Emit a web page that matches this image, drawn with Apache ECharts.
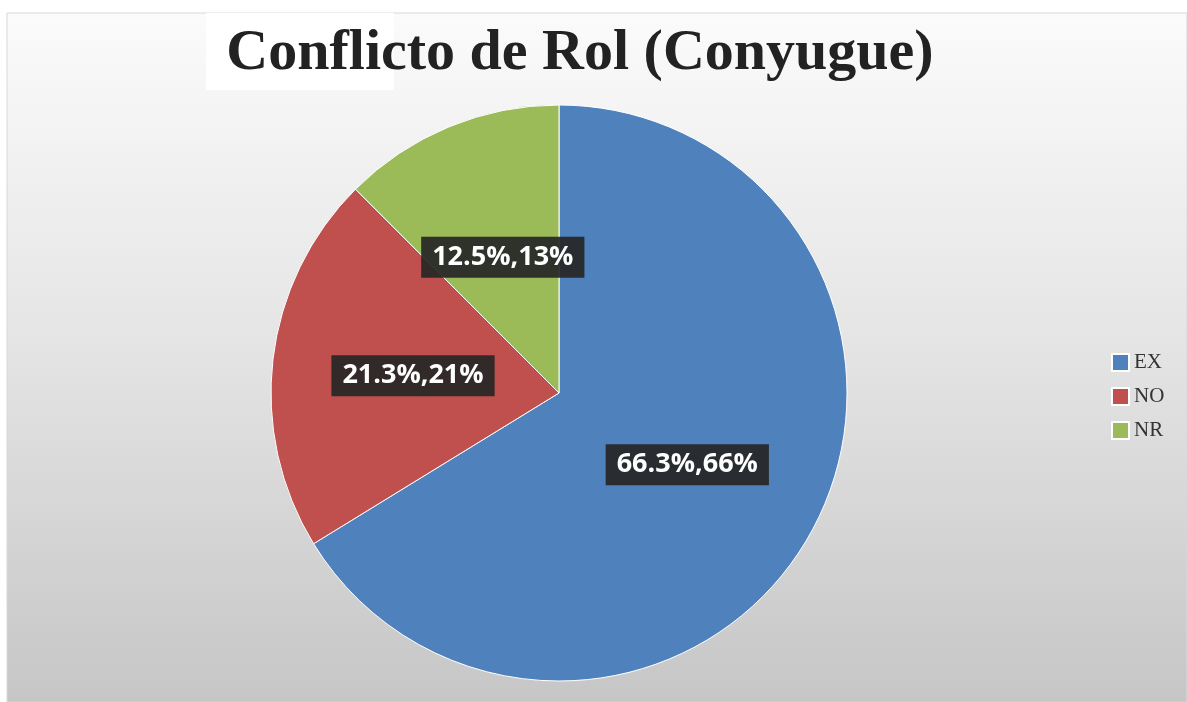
<!DOCTYPE html>
<html>
<head>
	<meta charset="utf-8"/>
	<title>Conflicto de Rol (Conyugue)</title>
	<script src="https://cdn.jsdelivr.net/npm/echarts@6/dist/echarts.min.js"></script>
	<style>
		html, body { margin: 0; padding: 0; background: #fff; }
		#chart { width: 1187px; height: 702px; }
	</style>
</head>
<body>
<div id="chart"></div>
<script>
    // datos del grafico
    var categorias = ['EX', 'NO', 'NR'];
    var valores = [66.3, 21.3, 12.5];
    var colores = ['#4f81bd', '#c0504d', '#9bbb59'];

    var datos = [];
    for (var i = 0; i < categorias.length; i++) {
        datos.push({ name: categorias[i], value: valores[i], itemStyle: { color: colores[i] } });
    }

    var dom = document.getElementById("chart");
    var myChart = echarts.init(dom);
    var option = {
        animation: false,
        graphic: [
            {   // fondo con degradado
                type: 'rect',
                shape: { x: 7, y: 13, width: 1180, height: 689 },
                style: {
                    fill: new echarts.graphic.LinearGradient(0, 0, 0, 1, [
                        { offset: 0, color: '#fbfbfb' },
                        { offset: 0.45, color: '#e6e6e6' },
                        { offset: 1, color: '#c6c6c6' }
                    ]),
                    stroke: '#d8d8d8',
                    lineWidth: 1
                }
            },
            {   // recuadro blanco detras de "Conflicto"
                type: 'rect',
                shape: { x: 206, y: 13, width: 188, height: 77 },
                style: { fill: '#ffffff' }
            }
        ],
        title: {
            text: 'Conflicto de Rol (Conyugue)',
            left: 575,
            top: 20,
            textAlign: 'center',
            textStyle: {
                fontFamily: 'Liberation Serif',
                fontSize: 58,
                fontWeight: 'bold',
                color: '#222'
            }
        },
        legend: {
            orient: 'vertical',
            left: 1111,
            top: 352,
            padding: 0,
            icon: 'rect',
            itemWidth: 17,
            itemHeight: 17,
            itemGap: 13,
            data: categorias,
            textStyle: {
                fontFamily: 'Liberation Serif',
                fontSize: 21,
                color: '#333'
            }
        },
        series: [{
            type: 'pie',
            center: [559, 393],
            radius: 288,
            startAngle: 90,
            clockwise: true,
            percentPrecision: 0,
            data: datos,
            itemStyle: { borderColor: '#ffffff', borderWidth: 1 },
            label: {
                show: true,
                position: 'inside',
                formatter: function (p) {
                    return p.value + '%,' + p.percent + '%';
                },
                fontFamily: 'Open Sans',
                fontSize: 27,
                fontWeight: 'bold',
                color: '#ffffff',
                backgroundColor: 'rgba(38,38,38,0.92)',
                padding: [7, 11]
            },
            labelLine: { show: false },
            emphasis: { disabled: true }
        }]
    };
    myChart.setOption(option, true);
</script>
</body>
</html>
